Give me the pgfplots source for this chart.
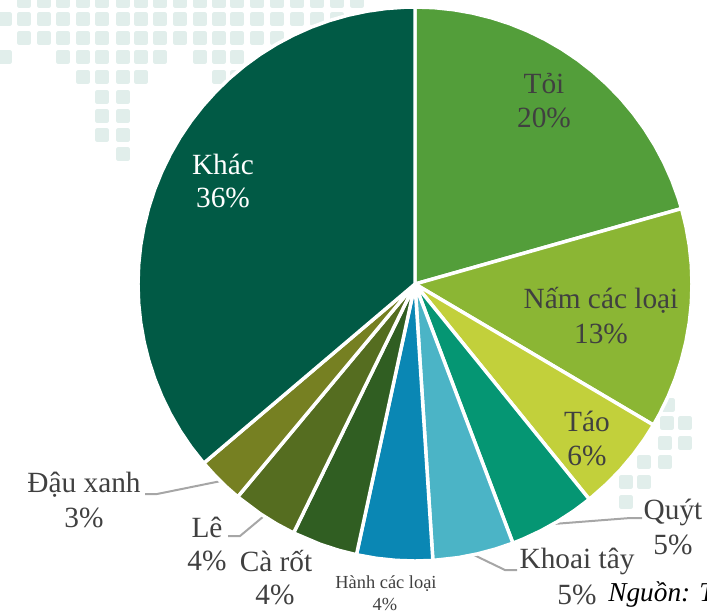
\documentclass[border=0pt]{standalone}
\usepackage{pgfplots}
\pgfplotsset{compat=1.18}
\usepgfplotslibrary{polar}
\usepackage{fontspec}
\setmainfont{Liberation Serif}
\definecolor{txt}{HTML}{404040}
\definecolor{dotc}{HTML}{E1EEEB}
\definecolor{lead}{HTML}{A6A6A6}
\definecolor{cToi}{HTML}{539E3A}
\definecolor{cNam}{HTML}{8BB634}
\definecolor{cTao}{HTML}{C2D03B}
\definecolor{cQuyt}{HTML}{059673}
\definecolor{cKhoai}{HTML}{4BB4C6}
\definecolor{cHanh}{HTML}{0A87B4}
\definecolor{cCarot}{HTML}{305E22}
\definecolor{cLe}{HTML}{556D20}
\definecolor{cDau}{HTML}{768022}
\definecolor{cKhac}{HTML}{015A45}
\begin{document}
\begin{tikzpicture}[x=0.75pt,y=-0.75pt]
\path[use as bounding box] (0,0) rectangle (707,612);
\coordinate (tl) at (0,0);
\coordinate (c) at (415,284);
% background dots and leader lines, in pixel coordinates
\begin{axis}[at={(tl)},anchor=north west,scale only axis,width=530.25pt,height=459pt,
  xmin=0,xmax=707,ymin=0,ymax=612,y dir=reverse,hide axis,clip=true]
\addplot[only marks,mark=square*,mark size=3.6pt,mark options={color=dotc,fill=dotc,line width=2.8pt,line join=round}] coordinates {
 (24,1)(44,1)(63,1)(83,1)(102,1)(123,1)(141,1)(160,1)(180,1)(200,1)(219,1)(237,1)(257,1)(277,1)(297,1)(317,1)(337,1)(357,1)
 (5,19)(24,19)(44,19)(63,19)(83,19)(102,19)(123,19)(141,19)(160,19)(180,19)(200,19)(219,19)(237,19)(257,19)(277,19)(297,19)(317,19)(337,19)
 (24,38)(44,38)(63,38)(83,38)(102,38)(123,38)(141,38)(160,38)(180,38)(200,38)(219,38)(237,38)(257,38)(277,38)
 (5,57)(63,57)(83,57)(102,57)(123,57)(141,57)(160,57)(200,57)(219,57)(237,57)
 (83,77)(102,77)(123,77)(141,77)(219,77)(237,77)
 (102,97)(123,97)(102,116)(123,116)(102,135)(123,135)(123,154)
 (668,405)(667,423)(685,423)(665,443)(685,443)(644,462)(665,462)(626,482)(644,482)(626,502)
};
\addplot[lead,line width=1.5pt] coordinates {(145,494)(157,494)(221,481)};
\addplot[lead,line width=1.5pt] coordinates {(228,536)(240,536)(264,516)};
\addplot[lead,line width=1.5pt] coordinates {(474,555)(505,570)(517,570)};
\addplot[lead,line width=1.5pt] coordinates {(553,524)(630,518)(642,518)};
\end{axis}
% the pie: each slice is (angle, radius) in a polar axis
\begin{polaraxis}[at={(c)},anchor=center,scale only axis,width=415.5pt,height=415.5pt,
  ymin=0,ymax=275,hide axis,clip=false,
  every axis plot/.append style={draw=white,line width=2.6pt,line join=round}]
\addplot[fill=cToi] coordinates {(0,0)(90,275)(86,275)(82,275)(78,275)(74,275)(70,275)(66,275)(62,275)(58,275)(54,275)(50,275)(46,275)(42,275)(38,275)(34,275)(30,275)(26,275)(22,275)(18,275)(15.8,275)} -- cycle;
\addplot[fill=cNam] coordinates {(0,0)(15.8,275)(12,275)(8,275)(4,275)(0,275)(-4,275)(-8,275)(-12,275)(-16,275)(-20,275)(-24,275)(-28,275)(-30.6,275)} -- cycle;
\addplot[fill=cTao] coordinates {(0,0)(-30.6,275)(-34,275)(-38,275)(-42,275)(-46,275)(-51,275)} -- cycle;
\addplot[fill=cQuyt] coordinates {(0,0)(-51,275)(-55,275)(-59,275)(-63,275)(-67,275)(-69.3,275)} -- cycle;
\addplot[fill=cKhoai] coordinates {(0,0)(-69.3,275)(-73,275)(-77,275)(-81,275)(-86.3,275)} -- cycle;
\addplot[fill=cHanh] coordinates {(0,0)(-86.3,275)(-90,275)(-94,275)(-98,275)(-102.2,275)} -- cycle;
\addplot[fill=cCarot] coordinates {(0,0)(-102.2,275)(-106,275)(-110,275)(-116,275)} -- cycle;
\addplot[fill=cLe] coordinates {(0,0)(-116,275)(-120,275)(-124,275)(-129.8,275)} -- cycle;
\addplot[fill=cDau] coordinates {(0,0)(-129.8,275)(-133,275)(-136,275)(-139.7,275)} -- cycle;
\addplot[fill=cKhac] coordinates {(0,0)(-139.7,275)(-144,275)(-148,275)(-152,275)(-156,275)(-160,275)(-164,275)(-168,275)(-172,275)(-176,275)(-180,275)(-184,275)(-188,275)(-192,275)(-196,275)(-200,275)(-204,275)(-208,275)(-212,275)(-216,275)(-220,275)(-224,275)(-228,275)(-232,275)(-236,275)(-240,275)(-244,275)(-248,275)(-252,275)(-256,275)(-260,275)(-264,275)(-268,275)(-270,275)} -- cycle;
\end{polaraxis}
% labels
\tikzset{lab/.style={text=txt,font=\fontsize{22pt}{24pt}\selectfont,inner sep=0pt,anchor=center},
 wl/.style={text=white,font=\fontsize{22pt}{24pt}\selectfont,inner sep=0pt,anchor=center},
 sm/.style={text=txt,font=\fontsize{13.8pt}{15pt}\selectfont,inner sep=0pt,anchor=center}}
\node[lab] at (544,84) {Tỏi};
\node[lab] at (544,118) {20\%};
\node[lab] at (601,300) {Nấm các loại};
\node[lab] at (601,334) {13\%};
\node[lab] at (587,421) {Táo};
\node[lab] at (587,456) {6\%};
\node[lab] at (673,512) {Quýt};
\node[lab] at (673,545) {5\%};
\node[lab] at (577,561) {Khoai tây};
\node[lab] at (577,595) {5\%};
\node[sm] at (386,584) {Hành các loại};
\node[sm] at (385,604) {4\%};
\node[lab] at (276,561) {Cà rốt};
\node[lab] at (275,595) {4\%};
\node[lab] at (207,527) {Lê};
\node[lab] at (207,561) {4\%};
\node[lab] at (84,485) {Đậu xanh};
\node[lab] at (84,518) {3\%};
\node[wl] at (223,164) {Khác};
\node[wl] at (223,198) {36\%};
\node[inner sep=0pt,anchor=base west,text=black,font=\fontsize{20.5pt}{22pt}\selectfont\itshape] at (608,601) {Nguồn: T};
\end{tikzpicture}
\end{document}
